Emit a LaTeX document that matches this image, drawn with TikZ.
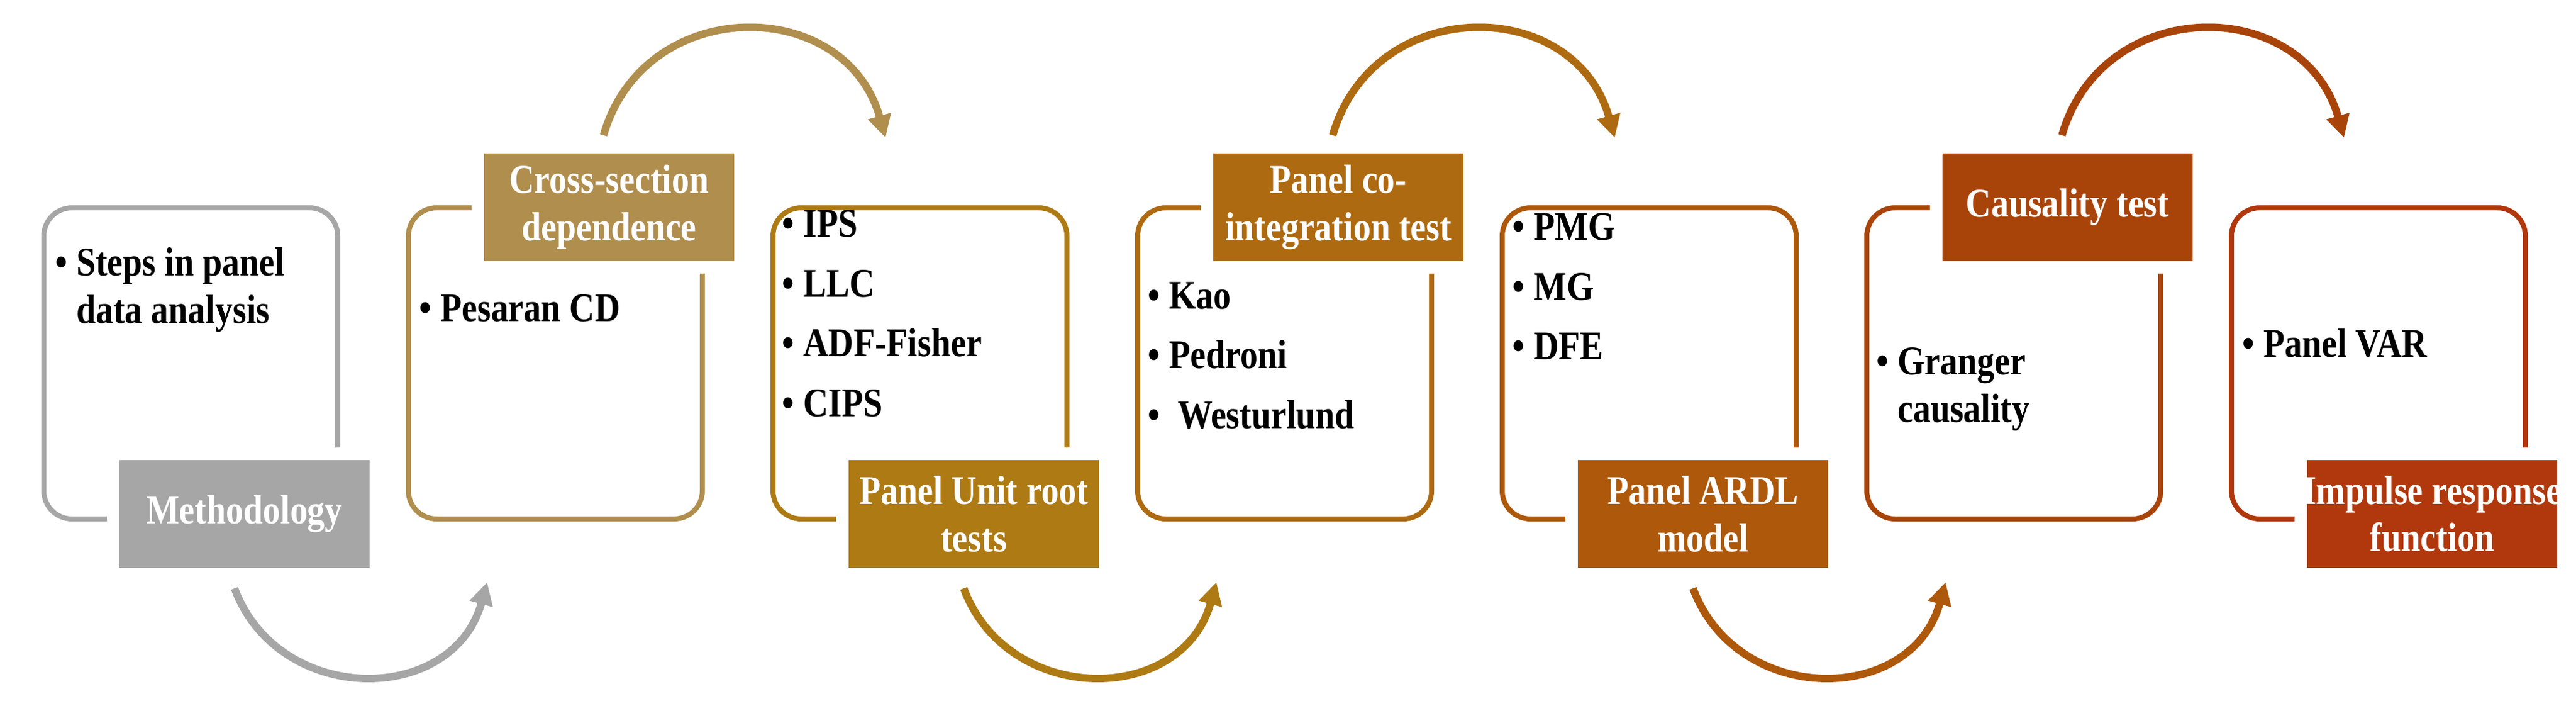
\documentclass[tikz,border=0pt]{standalone}
\usepackage{fontspec}
\setmainfont{Liberation Serif}[FakeStretch=0.86]
\usetikzlibrary{arrows.meta,calc}
\definecolor{cA}{HTML}{A6A6A6}
\definecolor{cB}{HTML}{B08E4E}
\definecolor{cC}{HTML}{AD7A14}
\definecolor{cD}{HTML}{AE6A10}
\definecolor{cE}{HTML}{AD580A}
\definecolor{cF}{HTML}{A8440A}
\definecolor{cG}{HTML}{B0380C}
\newcommand{\bul}{\textbullet\ }
\newcommand{\ind}{\hphantom{\textbullet\ }}
\begin{document}
\begin{tikzpicture}[
  font=\bfseries\fontsize{18.5}{21.5}\selectfont,
  frame/.style={draw=#1, line width=0.08cm, rounded corners=0.45cm, minimum width=4.7cm, minimum height=4.97cm, anchor=north west},
  lab/.style={fill=#1, draw=white, line width=0.2cm, text=white, minimum width=4.2cm, minimum height=1.92cm, align=center, anchor=west, inner sep=0pt},
  txt/.style={anchor=north west, align=left, inner sep=0pt, text=black},
  flow/.style={draw=#1, line width=0.12cm, -{Triangle[length=0.36cm,width=0.36cm]}}
]
\useasboundingbox (0,0) rectangle (41.19,-11.55);

% boxes
\node[frame=cA] (box1) at (0.66,-3.28) {};
\node[frame=cB] (box2) at (6.49,-3.28) {};
\node[frame=cC] (box3) at (12.32,-3.28) {};
\node[frame=cD] (box4) at (18.15,-3.28) {};
\node[frame=cE] (box5) at (23.98,-3.28) {};
\node[frame=cF] (box6) at (29.81,-3.28) {};
\node[frame=cG] (box7) at (35.64,-3.28) {};

% labels
\node[lab=cA] (lab1) at (1.71,-8.21) {Methodology};
\node[lab=cB] (lab2) at (7.54,-3.31) {Cross-section\\dependence};
\node[lab=cC] (lab3) at (13.37,-8.21) {Panel Unit root\\tests};
\node[lab=cD] (lab4) at (19.20,-3.31) {Panel co-\\integration test};
\node[lab=cE] (lab5) at (25.03,-8.21) {Panel ARDL\\model};
\node[lab=cF] (lab6) at (30.86,-3.31) {Causality test};
\node[lab=cG] (lab7) at (36.69,-8.21) {Impulse response\\function};

% contents
\node[txt] (t1) at (0.88,-3.95) {\bul Steps in panel\\\ind data analysis};
\node[txt] (t2) at (6.70,-4.70) {\bul Pesaran CD};
\node[txt] (t3) at (12.50,-3.35) {\bul IPS\\[0.2cm]\bul LLC\\[0.2cm]\bul ADF-Fisher\\[0.2cm]\bul CIPS};
\node[txt] (t4) at (18.35,-4.50) {\bul Kao\\[0.2cm]\bul Pedroni\\[0.2cm]\bul\ Westurlund};
\node[txt] (t5) at (24.18,-3.40) {\bul PMG\\[0.2cm]\bul MG\\[0.2cm]\bul DFE};
\node[txt] (t6) at (30.00,-5.55) {\bul Granger\\\ind causality};
\node[txt] (t7) at (35.85,-5.25) {\bul Panel VAR};

% arrow ends
\coordinate (a1s) at (3.75,-9.40); \coordinate (a1e) at (7.79,-9.30);
\coordinate (a2s) at (9.65,-2.16); \coordinate (a2e) at (14.16,-2.20);
\coordinate (a3s) at (15.41,-9.40); \coordinate (a3e) at (19.45,-9.30);
\coordinate (a4s) at (21.31,-2.16); \coordinate (a4e) at (25.82,-2.20);
\coordinate (a5s) at (27.07,-9.40); \coordinate (a5e) at (31.11,-9.30);
\coordinate (a6s) at (32.97,-2.16); \coordinate (a6e) at (37.48,-2.20);

\draw[flow=cA] (a1s) .. controls ($(a1s)+(0.7,-1.88)$) and ($(a1e)+(-0.55,-1.98)$) .. (a1e);
\draw[flow=cB] (a2s) .. controls ($(a2s)+(0.65,2.25)$) and ($(a2e)+(-0.65,2.29)$) .. (a2e);
\draw[flow=cC] (a3s) .. controls ($(a3s)+(0.7,-1.88)$) and ($(a3e)+(-0.55,-1.98)$) .. (a3e);
\draw[flow=cD] (a4s) .. controls ($(a4s)+(0.65,2.25)$) and ($(a4e)+(-0.65,2.29)$) .. (a4e);
\draw[flow=cE] (a5s) .. controls ($(a5s)+(0.7,-1.88)$) and ($(a5e)+(-0.55,-1.98)$) .. (a5e);
\draw[flow=cF] (a6s) .. controls ($(a6s)+(0.65,2.25)$) and ($(a6e)+(-0.65,2.29)$) .. (a6e);
\end{tikzpicture}
\end{document}
